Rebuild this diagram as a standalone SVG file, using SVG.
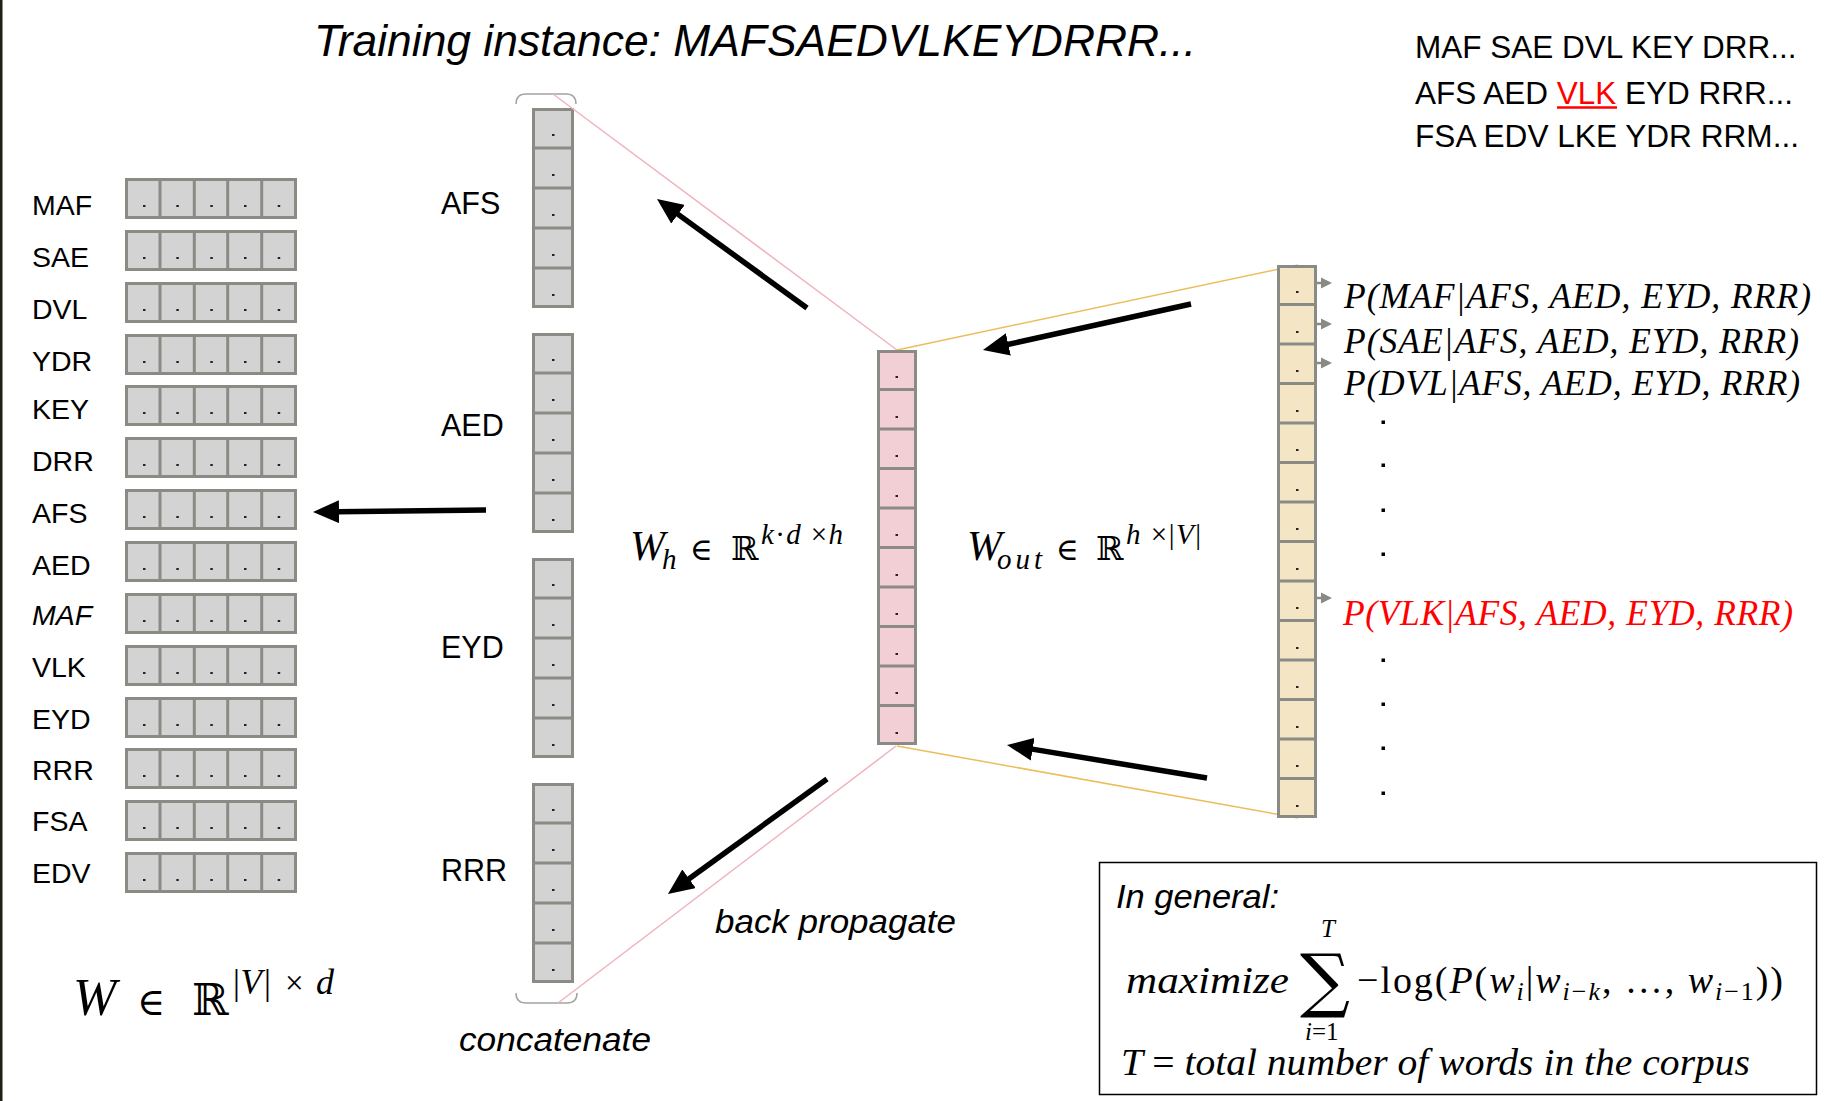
<svg xmlns="http://www.w3.org/2000/svg" xmlns:xlink="http://www.w3.org/1999/xlink" width="1832" height="1101" viewBox="0 0 1832 1101">
<style>
.s{font-family:"Liberation Sans",Arial,sans-serif;fill:#000}
.si{font-family:"Liberation Sans",Arial,sans-serif;font-style:italic;fill:#000}
.mi{font-family:"Liberation Serif","DejaVu Serif",serif;font-style:italic;fill:#000}
.mr{font-family:"Liberation Serif","DejaVu Serif",serif;font-style:normal;fill:#000}
.bb{font-family:"DejaVu Serif","DejaVu Sans",serif;fill:#000}
.cellg{fill:#d3d3d3;stroke:#8b8b85;stroke-width:3}
.cellp{fill:#f2ced5;stroke:#8b8b85;stroke-width:3}
.cellt{fill:#f4e5c4;stroke:#8b8b85;stroke-width:3}
.sep{stroke:#8b8b85;stroke-width:3;fill:none}
.dot{fill:#222}
.big{stroke:#000;stroke-width:5.5;fill:none;marker-end:url(#ah)}
.sm{stroke:#8a8a84;stroke-width:2.5;fill:none;marker-end:url(#sh)}
.pk{stroke:#f0b3bd;stroke-width:1.5;fill:none}
.or{stroke:#ecbd5c;stroke-width:1.5;fill:none}
.br{stroke:#a3a3a3;stroke-width:1.5;fill:none}
</style>
<defs>
<marker id="ah" markerUnits="userSpaceOnUse" viewBox="0 0 28 23" markerWidth="28" markerHeight="23" refX="2" refY="11.5" orient="auto">
<path d="M0,0 L26,11.5 L0,23 z" fill="#000"/>
</marker>
<marker id="sh" markerUnits="userSpaceOnUse" viewBox="0 0 12 12" markerWidth="12" markerHeight="12" refX="1" refY="6" orient="auto">
<path d="M0,0.5 L11,6 L0,11.5 z" fill="#8a8a84"/>
</marker>
<g id="row5">
<rect class="cellg" x="1.5" y="1.5" width="169" height="38"/>
<path class="sep" d="M35,0V41M69.3,0V41M102.7,0V41M136.7,0V41"/>
<rect class="dot" x="18" y="27" width="2.5" height="2"/>
<rect class="dot" x="51.3" y="27" width="2.5" height="2"/>
<rect class="dot" x="85.3" y="27" width="2.5" height="2"/>
<rect class="dot" x="119" y="27" width="2.5" height="2"/>
<rect class="dot" x="152.7" y="27" width="2.5" height="2"/>
</g>
<g id="col5">
<rect class="cellg" x="1.5" y="1.5" width="39" height="197"/>
<path class="sep" d="M0,40H42M0,80H42M0,120H42M0,160H42"/>
<rect class="dot" x="20" y="26" width="2.5" height="2"/>
<rect class="dot" x="20" y="66" width="2.5" height="2"/>
<rect class="dot" x="20" y="106" width="2.5" height="2"/>
<rect class="dot" x="20" y="146" width="2.5" height="2"/>
<rect class="dot" x="20" y="186" width="2.5" height="2"/>
</g>
</defs>

<rect x="0" y="0" width="1832" height="1101" fill="#fff"/>
<rect x="0" y="0" width="2.5" height="1101" fill="#201f18"/>

<text id="title" class="si" x="314" y="56" font-size="45" textLength="882" lengthAdjust="spacingAndGlyphs">Training instance: MAFSAEDVLKEYDRRR...</text>

<g id="sequences">
<text class="s" x="1415" y="58" font-size="31.5">MAF SAE DVL KEY DRR...</text>
<text class="s" x="1415" y="104" font-size="31.5">AFS AED <tspan fill="#ff0000">VLK</tspan> EYD RRR...</text>
<line x1="1557" y1="107.5" x2="1617" y2="107.5" stroke="#ff0000" stroke-width="2.5"/>
<text class="s" x="1415" y="147" font-size="31.5" textLength="384" lengthAdjust="spacingAndGlyphs">FSA EDV LKE YDR RRM...</text>
</g>

<g id="embedding-matrix">
<g id="emb-MAF"><text class="s" x="32" y="215" font-size="28.5">MAF</text><use xlink:href="#row5" href="#row5" x="125" y="178"/></g>
<g id="emb-SAE"><text class="s" x="32" y="267" font-size="28.5">SAE</text><use xlink:href="#row5" href="#row5" x="125" y="230"/></g>
<g id="emb-DVL"><text class="s" x="32" y="319" font-size="28.5">DVL</text><use xlink:href="#row5" href="#row5" x="125" y="282"/></g>
<g id="emb-YDR"><text class="s" x="32" y="371" font-size="28.5">YDR</text><use xlink:href="#row5" href="#row5" x="125" y="334"/></g>
<g id="emb-KEY"><text class="s" x="32" y="419" font-size="28.5">KEY</text><use xlink:href="#row5" href="#row5" x="125" y="385"/></g>
<g id="emb-DRR"><text class="s" x="32" y="471" font-size="28.5">DRR</text><use xlink:href="#row5" href="#row5" x="125" y="437"/></g>
<g id="emb-AFS"><text class="s" x="32" y="523" font-size="28.5">AFS</text><use xlink:href="#row5" href="#row5" x="125" y="489"/></g>
<g id="emb-AED"><text class="s" x="32" y="575" font-size="28.5">AED</text><use xlink:href="#row5" href="#row5" x="125" y="541"/></g>
<g id="emb-MAF2"><text class="si" x="32" y="625" font-size="28.5">MAF</text><use xlink:href="#row5" href="#row5" x="125" y="593"/></g>
<g id="emb-VLK"><text class="s" x="32" y="677" font-size="28.5">VLK</text><use xlink:href="#row5" href="#row5" x="125" y="645"/></g>
<g id="emb-EYD"><text class="s" x="32" y="729" font-size="28.5">EYD</text><use xlink:href="#row5" href="#row5" x="125" y="697"/></g>
<g id="emb-RRR"><text class="s" x="32" y="780" font-size="28.5">RRR</text><use xlink:href="#row5" href="#row5" x="125" y="748"/></g>
<g id="emb-FSA"><text class="s" x="32" y="831" font-size="28.5">FSA</text><use xlink:href="#row5" href="#row5" x="125" y="800"/></g>
<g id="emb-EDV"><text class="s" x="32" y="883" font-size="28.5">EDV</text><use xlink:href="#row5" href="#row5" x="125" y="852"/></g>
</g>

<g id="context-vectors">
<g id="ctx-AFS"><text class="s" x="441" y="214" font-size="30.5">AFS</text><use xlink:href="#col5" href="#col5" x="532" y="108"/></g>
<g id="ctx-AED"><text class="s" x="441" y="436" font-size="30.5">AED</text><use xlink:href="#col5" href="#col5" x="532" y="333"/></g>
<g id="ctx-EYD"><text class="s" x="441" y="658" font-size="30.5">EYD</text><use xlink:href="#col5" href="#col5" x="532" y="558"/></g>
<g id="ctx-RRR"><text class="s" x="441" y="881" font-size="30.5">RRR</text><use xlink:href="#col5" href="#col5" x="532" y="783"/></g>
<path class="br" d="M516,104 Q516,94 526,94 L566,94 Q576,94 576,104"/>
<path class="br" d="M516,993 Q516,1003 526,1003 L567,1003 Q577,1003 577,993"/>
<text class="si" x="459" y="1051" font-size="33" textLength="192" lengthAdjust="spacingAndGlyphs">concatenate</text>
</g>

<g id="connectors">
<line class="pk" x1="553" y1="94" x2="897" y2="350"/>
<line class="pk" x1="896" y1="746" x2="558" y2="1003"/>
<line class="or" x1="897" y1="350" x2="1298" y2="265"/>
<line class="or" x1="897" y1="746" x2="1298" y2="818"/>
<path class="big" d="M807,308 L676.4,213.1"/>
<path class="big" d="M1191,304 L1006.4,344.8"/>
<path class="big" d="M486,510 L337,511.7"/>
<path class="big" d="M1207,778 L1030.7,748.9"/>
<path class="big" d="M827,779 L687.4,879.9"/>
<path class="sm" d="M1309,283 H1322"/>
<path class="sm" d="M1309,324 H1322"/>
<path class="sm" d="M1309,363 H1322"/>
<path class="sm" d="M1308,598 H1322"/>
</g>

<g id="hidden-vector">
<rect class="cellp" x="878.5" y="351.5" width="37" height="392"/>
<path class="sep" d="M877,389.5H917M877,429H917M877,468.5H917M877,508H917M877,547.5H917M877,587H917M877,626.5H917M877,666H917M877,705.5H917"/>
<g class="dot">
<rect x="895.5" y="376" width="2.5" height="2"/><rect x="895.5" y="416" width="2.5" height="2"/><rect x="895.5" y="455" width="2.5" height="2"/><rect x="895.5" y="495" width="2.5" height="2"/><rect x="895.5" y="534" width="2.5" height="2"/><rect x="895.5" y="574" width="2.5" height="2"/><rect x="895.5" y="613" width="2.5" height="2"/><rect x="895.5" y="653" width="2.5" height="2"/><rect x="895.5" y="692" width="2.5" height="2"/><rect x="895.5" y="732" width="2.5" height="2"/>
</g>
</g>

<g id="output-vector">
<rect class="cellt" x="1278.5" y="266.5" width="37" height="550"/>
<path class="sep" d="M1277,304.5H1317M1277,344H1317M1277,383.5H1317M1277,423H1317M1277,462.5H1317M1277,502H1317M1277,541.5H1317M1277,581H1317M1277,620.5H1317M1277,660H1317M1277,699.5H1317M1277,739H1317M1277,778.5H1317"/>
<g class="dot">
<rect x="1296" y="291" width="2.5" height="2"/><rect x="1296" y="331" width="2.5" height="2"/><rect x="1296" y="370" width="2.5" height="2"/><rect x="1296" y="410" width="2.5" height="2"/><rect x="1296" y="449" width="2.5" height="2"/><rect x="1296" y="489" width="2.5" height="2"/><rect x="1296" y="528" width="2.5" height="2"/><rect x="1296" y="568" width="2.5" height="2"/><rect x="1296" y="607" width="2.5" height="2"/><rect x="1296" y="647" width="2.5" height="2"/><rect x="1296" y="686" width="2.5" height="2"/><rect x="1296" y="726" width="2.5" height="2"/><rect x="1296" y="765" width="2.5" height="2"/><rect x="1296" y="805" width="2.5" height="2"/>
</g>
</g>

<g id="probabilities">
<text class="mi" x="1344" y="308" font-size="35.5" textLength="467" lengthAdjust="spacing">P(MAF|AFS, AED, EYD, RRR)</text>
<text class="mi" x="1344" y="353" font-size="35.5" textLength="455" lengthAdjust="spacing">P(SAE|AFS, AED, EYD, RRR)</text>
<text class="mi" x="1344" y="395" font-size="35.5" textLength="456" lengthAdjust="spacing">P(DVL|AFS, AED, EYD, RRR)</text>
<text class="mi" x="1343" y="625" font-size="35.5" textLength="450" lengthAdjust="spacing" style="fill:#ff0000">P(VLK|AFS, AED, EYD, RRR)</text>
<g fill="#000">
<rect x="1381.5" y="420.5" width="3.5" height="3.5"/><rect x="1381.5" y="463.5" width="3.5" height="3.5"/><rect x="1381.5" y="508.5" width="3.5" height="3.5"/><rect x="1381.5" y="552.5" width="3.5" height="3.5"/>
<rect x="1381.5" y="658.5" width="3.5" height="3.5"/><rect x="1381.5" y="702.5" width="3.5" height="3.5"/><rect x="1381.5" y="746.5" width="3.5" height="3.5"/><rect x="1381.5" y="791.5" width="3.5" height="3.5"/>
</g>
</g>

<g id="label-W">
<text class="mi" x="73" y="1015" font-size="52">W</text>
<text class="mr" x="137" y="1015" font-size="38">∈</text>
<text class="bb" x="192" y="1015" font-size="44">ℝ</text>
<text class="mi" x="231" y="994" font-size="35">|V|</text>
<text class="mr" x="285" y="994" font-size="33">×</text>
<text class="mi" x="316" y="994" font-size="36">d</text>
</g>

<g id="label-Wh">
<text class="mi" x="630" y="560" font-size="42">W</text>
<text class="mi" x="662" y="569" font-size="29">h</text>
<text class="mr" x="690" y="560" font-size="31">∈</text>
<text class="bb" x="731" y="560" font-size="33">ℝ</text>
<text class="mi" x="761" y="544" font-size="29" textLength="82" lengthAdjust="spacing">k<tspan class="mr">·</tspan>d <tspan class="mr">×</tspan>h</text>
</g>

<g id="label-Wout">
<text class="mi" x="967" y="560" font-size="42">W</text>
<text class="mi" x="997" y="569" font-size="29" textLength="45" lengthAdjust="spacing">out</text>
<text class="mr" x="1056" y="560" font-size="31">∈</text>
<text class="bb" x="1096" y="560" font-size="33">ℝ</text>
<text class="mi" x="1126" y="544" font-size="29" textLength="75" lengthAdjust="spacing">h <tspan class="mr">×|</tspan>V<tspan class="mr">|</tspan></text>
</g>

<text id="label-backprop" class="si" x="715" y="933" font-size="33" textLength="241" lengthAdjust="spacingAndGlyphs">back propagate</text>

<g id="general-box">
<rect x="1099.5" y="862.5" width="717" height="232" fill="none" stroke="#000" stroke-width="1.5"/>
<text class="si" x="1116" y="908" font-size="33" textLength="163" lengthAdjust="spacingAndGlyphs">In general:</text>
<text class="mi" x="1126" y="993" font-size="38" textLength="163" lengthAdjust="spacingAndGlyphs">maximize</text>
<text class="mi" x="1321" y="937" font-size="25">T</text>
<text class="bb" x="1300" y="1004" font-size="70">∑</text>
<text class="mi" x="1305" y="1040" font-size="25">i<tspan class="mr">=1</tspan></text>
<text class="mr" x="1357" y="993" font-size="38" textLength="426" lengthAdjust="spacing">−log(<tspan class="mi">P</tspan>(<tspan class="mi">w</tspan><tspan class="mi" font-size="26" dy="7">i</tspan><tspan dy="-7">|</tspan><tspan class="mi">w</tspan><tspan class="mi" font-size="26" dy="7">i</tspan><tspan font-size="26">−</tspan><tspan class="mi" font-size="26">k</tspan><tspan dy="-7">, …, </tspan><tspan class="mi">w</tspan><tspan class="mi" font-size="26" dy="7">i</tspan><tspan font-size="26">−1</tspan><tspan dy="-7">))</tspan></text>
<text class="mi" x="1121" y="1075" font-size="38" textLength="629" lengthAdjust="spacingAndGlyphs">T <tspan class="mr">=</tspan> total number of words in the corpus</text>
</g>
</svg>
